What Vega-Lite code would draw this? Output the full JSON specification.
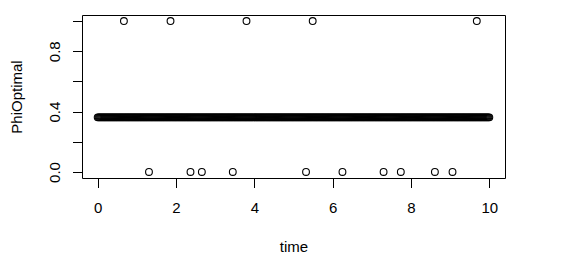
{
  "$schema": "https://vega.github.io/schema/vega-lite/v6.json",
  "width": 423,
  "height": 163,
  "autosize": "none",
  "padding": {"left": 82, "top": 15, "right": 83, "bottom": 102},
  "background": "white",
  "config": {"view": {"stroke": "black", "strokeWidth": 1}, "font": "Liberation Sans"},
  "data": {"values": [
{"t":0.67,"p":1},{"t":1.86,"p":1},{"t":3.80,"p":1},{"t":5.49,"p":1},{"t":9.68,"p":1},
{"t":1.31,"p":0},{"t":2.37,"p":0},{"t":2.66,"p":0},{"t":3.45,"p":0},{"t":5.32,"p":0},{"t":6.25,"p":0},{"t":7.30,"p":0},{"t":7.74,"p":0},{"t":8.61,"p":0},{"t":9.06,"p":0},
{"t":0,"p":0.362},{"t":0.025,"p":0.362},{"t":0.05,"p":0.362},{"t":0.075,"p":0.362},{"t":0.1,"p":0.362},{"t":0.125,"p":0.362},{"t":0.15,"p":0.362},{"t":0.175,"p":0.362},{"t":0.2,"p":0.362},{"t":0.225,"p":0.362},{"t":0.25,"p":0.362},{"t":0.275,"p":0.362},{"t":0.3,"p":0.362},{"t":0.325,"p":0.362},{"t":0.35,"p":0.362},{"t":0.375,"p":0.362},{"t":0.4,"p":0.362},{"t":0.425,"p":0.362},{"t":0.45,"p":0.362},{"t":0.475,"p":0.362},{"t":0.5,"p":0.362},{"t":0.525,"p":0.362},{"t":0.55,"p":0.362},{"t":0.575,"p":0.362},{"t":0.6,"p":0.362},{"t":0.625,"p":0.362},{"t":0.65,"p":0.362},{"t":0.675,"p":0.362},{"t":0.7,"p":0.362},{"t":0.725,"p":0.362},{"t":0.75,"p":0.362},{"t":0.775,"p":0.362},{"t":0.8,"p":0.362},{"t":0.825,"p":0.362},{"t":0.85,"p":0.362},{"t":0.875,"p":0.362},{"t":0.9,"p":0.362},{"t":0.925,"p":0.362},{"t":0.95,"p":0.362},{"t":0.975,"p":0.362},
{"t":1,"p":0.362},{"t":1.025,"p":0.362},{"t":1.05,"p":0.362},{"t":1.075,"p":0.362},{"t":1.1,"p":0.362},{"t":1.125,"p":0.362},{"t":1.15,"p":0.362},{"t":1.175,"p":0.362},{"t":1.2,"p":0.362},{"t":1.225,"p":0.362},{"t":1.25,"p":0.362},{"t":1.275,"p":0.362},{"t":1.3,"p":0.362},{"t":1.325,"p":0.362},{"t":1.35,"p":0.362},{"t":1.375,"p":0.362},{"t":1.4,"p":0.362},{"t":1.425,"p":0.362},{"t":1.45,"p":0.362},{"t":1.475,"p":0.362},{"t":1.5,"p":0.362},{"t":1.525,"p":0.362},{"t":1.55,"p":0.362},{"t":1.575,"p":0.362},{"t":1.6,"p":0.362},{"t":1.625,"p":0.362},{"t":1.65,"p":0.362},{"t":1.675,"p":0.362},{"t":1.7,"p":0.362},{"t":1.725,"p":0.362},{"t":1.75,"p":0.362},{"t":1.775,"p":0.362},{"t":1.8,"p":0.362},{"t":1.825,"p":0.362},{"t":1.85,"p":0.362},{"t":1.875,"p":0.362},{"t":1.9,"p":0.362},{"t":1.925,"p":0.362},{"t":1.95,"p":0.362},{"t":1.975,"p":0.362},
{"t":2,"p":0.362},{"t":2.025,"p":0.362},{"t":2.05,"p":0.362},{"t":2.075,"p":0.362},{"t":2.1,"p":0.362},{"t":2.125,"p":0.362},{"t":2.15,"p":0.362},{"t":2.175,"p":0.362},{"t":2.2,"p":0.362},{"t":2.225,"p":0.362},{"t":2.25,"p":0.362},{"t":2.275,"p":0.362},{"t":2.3,"p":0.362},{"t":2.325,"p":0.362},{"t":2.35,"p":0.362},{"t":2.375,"p":0.362},{"t":2.4,"p":0.362},{"t":2.425,"p":0.362},{"t":2.45,"p":0.362},{"t":2.475,"p":0.362},{"t":2.5,"p":0.362},{"t":2.525,"p":0.362},{"t":2.55,"p":0.362},{"t":2.575,"p":0.362},{"t":2.6,"p":0.362},{"t":2.625,"p":0.362},{"t":2.65,"p":0.362},{"t":2.675,"p":0.362},{"t":2.7,"p":0.362},{"t":2.725,"p":0.362},{"t":2.75,"p":0.362},{"t":2.775,"p":0.362},{"t":2.8,"p":0.362},{"t":2.825,"p":0.362},{"t":2.85,"p":0.362},{"t":2.875,"p":0.362},{"t":2.9,"p":0.362},{"t":2.925,"p":0.362},{"t":2.95,"p":0.362},{"t":2.975,"p":0.362},
{"t":3,"p":0.362},{"t":3.025,"p":0.362},{"t":3.05,"p":0.362},{"t":3.075,"p":0.362},{"t":3.1,"p":0.362},{"t":3.125,"p":0.362},{"t":3.15,"p":0.362},{"t":3.175,"p":0.362},{"t":3.2,"p":0.362},{"t":3.225,"p":0.362},{"t":3.25,"p":0.362},{"t":3.275,"p":0.362},{"t":3.3,"p":0.362},{"t":3.325,"p":0.362},{"t":3.35,"p":0.362},{"t":3.375,"p":0.362},{"t":3.4,"p":0.362},{"t":3.425,"p":0.362},{"t":3.45,"p":0.362},{"t":3.475,"p":0.362},{"t":3.5,"p":0.362},{"t":3.525,"p":0.362},{"t":3.55,"p":0.362},{"t":3.575,"p":0.362},{"t":3.6,"p":0.362},{"t":3.625,"p":0.362},{"t":3.65,"p":0.362},{"t":3.675,"p":0.362},{"t":3.7,"p":0.362},{"t":3.725,"p":0.362},{"t":3.75,"p":0.362},{"t":3.775,"p":0.362},{"t":3.8,"p":0.362},{"t":3.825,"p":0.362},{"t":3.85,"p":0.362},{"t":3.875,"p":0.362},{"t":3.9,"p":0.362},{"t":3.925,"p":0.362},{"t":3.95,"p":0.362},{"t":3.975,"p":0.362},
{"t":4,"p":0.362},{"t":4.025,"p":0.362},{"t":4.05,"p":0.362},{"t":4.075,"p":0.362},{"t":4.1,"p":0.362},{"t":4.125,"p":0.362},{"t":4.15,"p":0.362},{"t":4.175,"p":0.362},{"t":4.2,"p":0.362},{"t":4.225,"p":0.362},{"t":4.25,"p":0.362},{"t":4.275,"p":0.362},{"t":4.3,"p":0.362},{"t":4.325,"p":0.362},{"t":4.35,"p":0.362},{"t":4.375,"p":0.362},{"t":4.4,"p":0.362},{"t":4.425,"p":0.362},{"t":4.45,"p":0.362},{"t":4.475,"p":0.362},{"t":4.5,"p":0.362},{"t":4.525,"p":0.362},{"t":4.55,"p":0.362},{"t":4.575,"p":0.362},{"t":4.6,"p":0.362},{"t":4.625,"p":0.362},{"t":4.65,"p":0.362},{"t":4.675,"p":0.362},{"t":4.7,"p":0.362},{"t":4.725,"p":0.362},{"t":4.75,"p":0.362},{"t":4.775,"p":0.362},{"t":4.8,"p":0.362},{"t":4.825,"p":0.362},{"t":4.85,"p":0.362},{"t":4.875,"p":0.362},{"t":4.9,"p":0.362},{"t":4.925,"p":0.362},{"t":4.95,"p":0.362},{"t":4.975,"p":0.362},
{"t":5,"p":0.362},{"t":5.025,"p":0.362},{"t":5.05,"p":0.362},{"t":5.075,"p":0.362},{"t":5.1,"p":0.362},{"t":5.125,"p":0.362},{"t":5.15,"p":0.362},{"t":5.175,"p":0.362},{"t":5.2,"p":0.362},{"t":5.225,"p":0.362},{"t":5.25,"p":0.362},{"t":5.275,"p":0.362},{"t":5.3,"p":0.362},{"t":5.325,"p":0.362},{"t":5.35,"p":0.362},{"t":5.375,"p":0.362},{"t":5.4,"p":0.362},{"t":5.425,"p":0.362},{"t":5.45,"p":0.362},{"t":5.475,"p":0.362},{"t":5.5,"p":0.362},{"t":5.525,"p":0.362},{"t":5.55,"p":0.362},{"t":5.575,"p":0.362},{"t":5.6,"p":0.362},{"t":5.625,"p":0.362},{"t":5.65,"p":0.362},{"t":5.675,"p":0.362},{"t":5.7,"p":0.362},{"t":5.725,"p":0.362},{"t":5.75,"p":0.362},{"t":5.775,"p":0.362},{"t":5.8,"p":0.362},{"t":5.825,"p":0.362},{"t":5.85,"p":0.362},{"t":5.875,"p":0.362},{"t":5.9,"p":0.362},{"t":5.925,"p":0.362},{"t":5.95,"p":0.362},{"t":5.975,"p":0.362},
{"t":6,"p":0.362},{"t":6.025,"p":0.362},{"t":6.05,"p":0.362},{"t":6.075,"p":0.362},{"t":6.1,"p":0.362},{"t":6.125,"p":0.362},{"t":6.15,"p":0.362},{"t":6.175,"p":0.362},{"t":6.2,"p":0.362},{"t":6.225,"p":0.362},{"t":6.25,"p":0.362},{"t":6.275,"p":0.362},{"t":6.3,"p":0.362},{"t":6.325,"p":0.362},{"t":6.35,"p":0.362},{"t":6.375,"p":0.362},{"t":6.4,"p":0.362},{"t":6.425,"p":0.362},{"t":6.45,"p":0.362},{"t":6.475,"p":0.362},{"t":6.5,"p":0.362},{"t":6.525,"p":0.362},{"t":6.55,"p":0.362},{"t":6.575,"p":0.362},{"t":6.6,"p":0.362},{"t":6.625,"p":0.362},{"t":6.65,"p":0.362},{"t":6.675,"p":0.362},{"t":6.7,"p":0.362},{"t":6.725,"p":0.362},{"t":6.75,"p":0.362},{"t":6.775,"p":0.362},{"t":6.8,"p":0.362},{"t":6.825,"p":0.362},{"t":6.85,"p":0.362},{"t":6.875,"p":0.362},{"t":6.9,"p":0.362},{"t":6.925,"p":0.362},{"t":6.95,"p":0.362},{"t":6.975,"p":0.362},
{"t":7,"p":0.362},{"t":7.025,"p":0.362},{"t":7.05,"p":0.362},{"t":7.075,"p":0.362},{"t":7.1,"p":0.362},{"t":7.125,"p":0.362},{"t":7.15,"p":0.362},{"t":7.175,"p":0.362},{"t":7.2,"p":0.362},{"t":7.225,"p":0.362},{"t":7.25,"p":0.362},{"t":7.275,"p":0.362},{"t":7.3,"p":0.362},{"t":7.325,"p":0.362},{"t":7.35,"p":0.362},{"t":7.375,"p":0.362},{"t":7.4,"p":0.362},{"t":7.425,"p":0.362},{"t":7.45,"p":0.362},{"t":7.475,"p":0.362},{"t":7.5,"p":0.362},{"t":7.525,"p":0.362},{"t":7.55,"p":0.362},{"t":7.575,"p":0.362},{"t":7.6,"p":0.362},{"t":7.625,"p":0.362},{"t":7.65,"p":0.362},{"t":7.675,"p":0.362},{"t":7.7,"p":0.362},{"t":7.725,"p":0.362},{"t":7.75,"p":0.362},{"t":7.775,"p":0.362},{"t":7.8,"p":0.362},{"t":7.825,"p":0.362},{"t":7.85,"p":0.362},{"t":7.875,"p":0.362},{"t":7.9,"p":0.362},{"t":7.925,"p":0.362},{"t":7.95,"p":0.362},{"t":7.975,"p":0.362},
{"t":8,"p":0.362},{"t":8.025,"p":0.362},{"t":8.05,"p":0.362},{"t":8.075,"p":0.362},{"t":8.1,"p":0.362},{"t":8.125,"p":0.362},{"t":8.15,"p":0.362},{"t":8.175,"p":0.362},{"t":8.2,"p":0.362},{"t":8.225,"p":0.362},{"t":8.25,"p":0.362},{"t":8.275,"p":0.362},{"t":8.3,"p":0.362},{"t":8.325,"p":0.362},{"t":8.35,"p":0.362},{"t":8.375,"p":0.362},{"t":8.4,"p":0.362},{"t":8.425,"p":0.362},{"t":8.45,"p":0.362},{"t":8.475,"p":0.362},{"t":8.5,"p":0.362},{"t":8.525,"p":0.362},{"t":8.55,"p":0.362},{"t":8.575,"p":0.362},{"t":8.6,"p":0.362},{"t":8.625,"p":0.362},{"t":8.65,"p":0.362},{"t":8.675,"p":0.362},{"t":8.7,"p":0.362},{"t":8.725,"p":0.362},{"t":8.75,"p":0.362},{"t":8.775,"p":0.362},{"t":8.8,"p":0.362},{"t":8.825,"p":0.362},{"t":8.85,"p":0.362},{"t":8.875,"p":0.362},{"t":8.9,"p":0.362},{"t":8.925,"p":0.362},{"t":8.95,"p":0.362},{"t":8.975,"p":0.362},
{"t":9,"p":0.362},{"t":9.025,"p":0.362},{"t":9.05,"p":0.362},{"t":9.075,"p":0.362},{"t":9.1,"p":0.362},{"t":9.125,"p":0.362},{"t":9.15,"p":0.362},{"t":9.175,"p":0.362},{"t":9.2,"p":0.362},{"t":9.225,"p":0.362},{"t":9.25,"p":0.362},{"t":9.275,"p":0.362},{"t":9.3,"p":0.362},{"t":9.325,"p":0.362},{"t":9.35,"p":0.362},{"t":9.375,"p":0.362},{"t":9.4,"p":0.362},{"t":9.425,"p":0.362},{"t":9.45,"p":0.362},{"t":9.475,"p":0.362},{"t":9.5,"p":0.362},{"t":9.525,"p":0.362},{"t":9.55,"p":0.362},{"t":9.575,"p":0.362},{"t":9.6,"p":0.362},{"t":9.625,"p":0.362},{"t":9.65,"p":0.362},{"t":9.675,"p":0.362},{"t":9.7,"p":0.362},{"t":9.725,"p":0.362},{"t":9.75,"p":0.362},{"t":9.775,"p":0.362},{"t":9.8,"p":0.362},{"t":9.825,"p":0.362},{"t":9.85,"p":0.362},{"t":9.875,"p":0.362},{"t":9.9,"p":0.362},{"t":9.925,"p":0.362},{"t":9.95,"p":0.362},{"t":9.975,"p":0.362},
{"t":10,"p":0.362}
  ]},
  "mark": {"type": "point", "shape": "circle", "filled": false, "stroke": "black", "strokeWidth": 1.1, "size": 46, "opacity": 1},
  "encoding": {
    "x": {
      "field": "t", "type": "quantitative",
      "scale": {"domain": [-0.4, 10.4], "nice": false, "zero": false},
      "axis": {
        "title": "time", "values": [0, 2, 4, 6, 8, 10], "format": "d",
        "grid": false, "domain": false,
        "tickSize": 9.5, "tickColor": "black", "tickWidth": 1,
        "labelFontSize": 15, "labelColor": "black", "labelPadding": 13, "labelFont": "Liberation Sans",
        "labelFlush": false, "labelOverlap": false,
        "titleFontSize": 15, "titleFontWeight": "normal", "titleColor": "black", "titleFont": "Liberation Sans",
        "titleBaseline": "alphabetic", "titleY": 73
      }
    },
    "y": {
      "field": "p", "type": "quantitative",
      "scale": {"domain": [-0.04, 1.04], "nice": false, "zero": false},
      "axis": {
        "title": "PhiOptimal", "values": [0, 0.2, 0.4, 0.6, 0.8, 1.0],
        "labelExpr": "(round(datum.value*10) % 4 == 0) ? format(datum.value, '.1f') : ''",
        "grid": false, "domain": false,
        "tickSize": 9.5, "tickColor": "black", "tickWidth": 1,
        "labelFontSize": 15, "labelColor": "black", "labelPadding": 12.8, "labelFont": "Liberation Sans",
        "labelAngle": 270, "labelAlign": "center", "labelBaseline": "alphabetic",
        "labelFlush": false, "labelOverlap": false,
        "titleFontSize": 15, "titleFontWeight": "normal", "titleColor": "black", "titleFont": "Liberation Sans",
        "titleAngle": 270, "titleAlign": "center", "titleBaseline": "alphabetic", "titleX": -61, "titleY": 81.5
      }
    }
  }
}
